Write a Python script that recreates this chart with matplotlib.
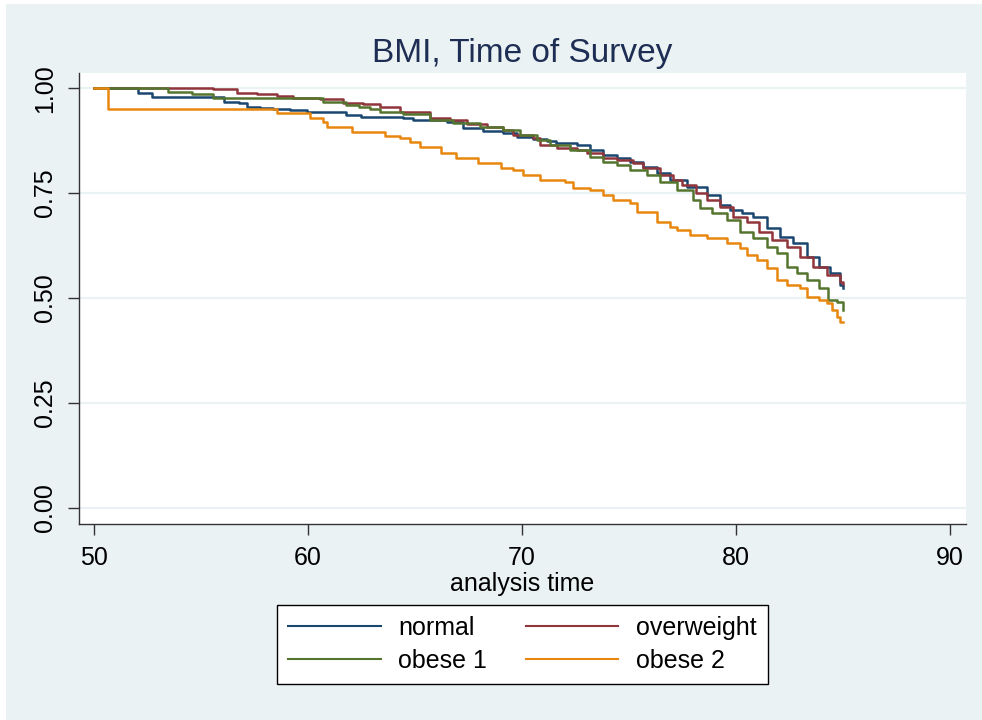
import matplotlib as mpl
import matplotlib.pyplot as plt
from matplotlib.patches import Rectangle

mpl.rcParams['font.family'] = ['Liberation Sans', 'DejaVu Sans']

# Kaplan-Meier estimates (time, survival)
normal_t = [50.0, 52.05, 52.7, 56.1, 56.8, 57.15, 57.75, 58.35, 59.15, 59.95, 61.8, 62.5,
            64.45, 64.9, 66.5, 67.25, 68.2, 69.1, 69.75, 70.5, 71.15, 71.6, 72.55, 73.2,
            73.8, 74.45, 75.05, 75.65, 76.3, 76.9, 77.7, 78.65, 79.25, 79.7, 80.3, 80.8,
            81.45, 82.05, 82.65, 83.3, 83.9, 84.4, 84.85, 85.0]
normal_s = [1.000, 0.988, 0.979, 0.967, 0.964, 0.955, 0.952, 0.950, 0.948, 0.943, 0.936, 0.931,
            0.929, 0.924, 0.919, 0.905, 0.898, 0.893, 0.883, 0.879, 0.874, 0.869, 0.864, 0.852,
            0.840, 0.833, 0.824, 0.812, 0.798, 0.781, 0.764, 0.745, 0.721, 0.710, 0.702, 0.693,
            0.667, 0.645, 0.631, 0.598, 0.574, 0.560, 0.531, 0.524]

over_t = [50.0, 55.55, 56.7, 57.6, 58.55, 59.3, 60.55, 61.65, 62.55, 63.35, 64.3, 65.7,
          66.65, 67.45, 68.35, 69.1, 69.6, 70.5, 70.85, 71.65, 72.55, 73.05, 73.8, 74.45,
          75.2, 75.65, 76.45, 77.05, 77.5, 78.15, 78.65, 79.25, 79.85, 80.5, 81.1, 81.7,
          82.4, 83.0, 83.6, 84.25, 84.85, 85.0]
over_s = [1.000, 0.998, 0.988, 0.986, 0.981, 0.976, 0.974, 0.964, 0.962, 0.955, 0.943, 0.929,
          0.924, 0.914, 0.907, 0.900, 0.888, 0.881, 0.864, 0.857, 0.852, 0.845, 0.833, 0.829,
          0.821, 0.810, 0.793, 0.781, 0.769, 0.750, 0.733, 0.717, 0.693, 0.681, 0.657, 0.638,
          0.621, 0.598, 0.574, 0.555, 0.538, 0.533]

ob1_t = [50.0, 53.45, 54.6, 55.55, 60.7, 61.8, 62.4, 62.9, 63.35, 64.45, 65.7, 66.8,
         68.05, 69.1, 69.9, 70.7, 71.3, 72.25, 73.2, 73.8, 74.45, 75.05, 75.85, 76.45,
         77.25, 78.0, 78.3, 78.9, 79.6, 80.2, 80.8, 81.45, 81.9, 82.4, 82.85, 83.3,
         83.9, 84.3, 84.7, 85.0]
ob1_s = [1.000, 0.990, 0.986, 0.976, 0.967, 0.960, 0.955, 0.950, 0.943, 0.938, 0.924, 0.917,
         0.907, 0.900, 0.888, 0.876, 0.864, 0.852, 0.836, 0.824, 0.817, 0.805, 0.793, 0.776,
         0.757, 0.733, 0.714, 0.702, 0.686, 0.657, 0.643, 0.621, 0.607, 0.574, 0.560, 0.543,
         0.524, 0.495, 0.490, 0.471]

ob2_t = [50.0, 50.65, 58.55, 60.1, 60.7, 60.9, 62.05, 63.6, 64.3, 64.75, 65.25, 66.2,
         66.9, 67.95, 69.0, 69.6, 70.05, 70.85, 72.0, 72.4, 73.2, 73.8, 74.25, 75.05,
         75.4, 76.3, 76.9, 77.25, 77.85, 78.65, 79.6, 80.2, 80.5, 81.0, 81.45, 81.9,
         82.4, 83.0, 83.3, 83.9, 84.25, 84.5, 84.7, 84.85, 85.0]
ob2_s = [1.000, 0.950, 0.940, 0.929, 0.919, 0.907, 0.895, 0.886, 0.881, 0.871, 0.860, 0.845,
         0.833, 0.821, 0.810, 0.805, 0.793, 0.781, 0.776, 0.762, 0.757, 0.745, 0.733, 0.726,
         0.705, 0.681, 0.669, 0.662, 0.650, 0.643, 0.631, 0.619, 0.602, 0.590, 0.571, 0.543,
         0.531, 0.524, 0.502, 0.495, 0.488, 0.471, 0.455, 0.443, 0.443]

labels = ['normal', 'overweight', 'obese 1', 'obese 2']
colors = ['#1A476F', '#90353B', '#55752F', '#E8870E']

xticks = [50, 60, 70, 80, 90]
yticks = [0.0, 0.25, 0.5, 0.75, 1.0]

bg = '#EAF2F3'
fig = plt.figure(figsize=(9.82, 7.2), dpi=100, facecolor='white')
fig.add_artist(Rectangle((6 / 982, 0), 1, 716 / 720, transform=fig.transFigure,
                         facecolor=bg, edgecolor='none', zorder=-5))

ax = fig.add_axes([0.0804, 0.2722, 0.9033, 0.6264])
ax.set_facecolor('white')

series = [(normal_t, normal_s), (over_t, over_s), (ob1_t, ob1_s), (ob2_t, ob2_s)]
handles = []
for (t, s), lab, c in zip(series, labels, colors):
    h, = ax.plot(t, s, drawstyle='steps-post', color=c, lw=1.8, label=lab)
    handles.append(h)

ax.set_xlim(49.3, 90.75)
ax.set_ylim(-0.038, 1.036)
ax.set_xticks(xticks)
ax.set_yticks(yticks)
ax.set_yticklabels(['%.2f' % v for v in yticks], rotation=90, va='center')
ax.yaxis.grid(True, color=bg, lw=1.6)
ax.set_axisbelow(True)

for side in ['top', 'right']:
    ax.spines[side].set_visible(False)
for side in ['left', 'bottom']:
    ax.spines[side].set_color('#333333')
    ax.spines[side].set_linewidth(1.0)
ax.tick_params(axis='both', direction='out', length=8, width=1.0, color='#333333',
               labelsize=18, pad=8)

ax.set_xlabel('analysis time', fontsize=18, labelpad=1)
ax.set_title('BMI, Time of Survey', fontsize=24, color='#1E2D53', pad=8)

# legend fills row by row: normal, overweight / obese 1, obese 2
order = [0, 2, 1, 3]
leg = fig.legend(handles=[handles[i] for i in order], labels=[labels[i] for i in order],
                 loc='center', ncol=2, bbox_to_anchor=(0.532, 0.105), fontsize=18,
                 frameon=True, fancybox=False, edgecolor='black', framealpha=1,
                 handlelength=3.7, handletextpad=0.7, columnspacing=1.55,
                 labelspacing=0.35, borderpad=0.45)
leg.get_frame().set_linewidth(1.0)
for ln in leg.get_lines():
    ln.set_linewidth(1.5)

fig.savefig('out.png', dpi=100, facecolor=fig.get_facecolor())
